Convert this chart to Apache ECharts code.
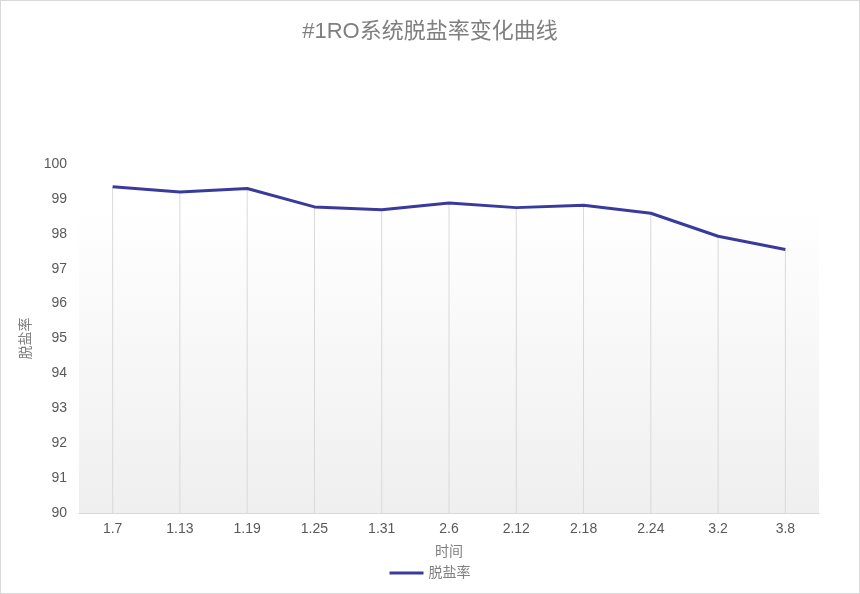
<!DOCTYPE html>
<html><head><meta charset="utf-8">
<script src="https://cdn.jsdelivr.net/npm/echarts@6/dist/echarts.min.js"></script>
<style>html,body{margin:0;padding:0;background:#fff}#c{width:860px;height:594px;box-sizing:border-box;border:1px solid #d9d9d9}</style>
</head><body><div id="c"></div>
<script>
const categories = ['1.7','1.13','1.19','1.25','1.31','2.6','2.12','2.18','2.24','3.2','3.8'];
const saltRejection = [99.35, 99.2, 99.3, 98.77, 98.69, 98.88, 98.75, 98.82, 98.59, 97.93, 97.55];
const yTicks = {min: 90, max: 100, interval: 1};

const chart = echarts.init(document.getElementById('c'));
const font = '"Liberation Sans", "Noto Sans CJK SC", sans-serif';
chart.setOption({
  animation: false,
  title: {text: '#1RO系统脱盐率变化曲线', left: 'center', top: 15,
    textStyle: {fontSize: 22, fontWeight: 'normal', color: '#7f7f7f', fontFamily: font}},
  grid: {left: 78, right: 40, top: 163, bottom: 80,
    show: true, borderWidth: 0,
    backgroundColor: new echarts.graphic.LinearGradient(0, 0, 0, 1, [
      {offset: 0, color: '#ffffff'}, {offset: 0.12, color: '#ffffff'}, {offset: 1, color: '#efefef'}])},
  legend: {bottom: 8, left: 'center', icon: 'rect', itemWidth: 34, itemHeight: 3,
    itemGap: 4, data: ['脱盐率'],
    textStyle: {fontSize: 14, color: '#7f7f7f', fontFamily: font}},
  xAxis: {type: 'category', data: categories, boundaryGap: true,
    name: '时间', nameLocation: 'middle', nameGap: 32,
    nameTextStyle: {fontSize: 14, color: '#7f7f7f', fontFamily: font},
    axisLine: {lineStyle: {color: '#d9d9d9', width: 1}},
    axisTick: {show: false},
    axisLabel: {fontSize: 14, color: '#595959', margin: 9, fontFamily: font},
    splitLine: {show: false}},
  yAxis: {type: 'value', min: yTicks.min, max: yTicks.max, interval: yTicks.interval,
    name: '脱盐率', nameLocation: 'middle', nameGap: 45,
    nameTextStyle: {fontSize: 14, color: '#7f7f7f', fontFamily: font},
    axisLine: {show: false}, axisTick: {show: false},
    axisLabel: {fontSize: 14, color: '#595959', margin: 12, fontFamily: font},
    splitLine: {show: false}},
  series: [
    {name: 'drop', type: 'bar', data: saltRejection, barWidth: 1, silent: true,
     itemStyle: {color: '#d9d9d9'}, z: 1, legendHoverLink: false},
    {name: '脱盐率', type: 'line', data: saltRejection, symbol: 'none', smooth: false,
     lineStyle: {color: '#3a3a9c', width: 3}, itemStyle: {color: '#3a3a9c'}, z: 3}
  ]
});
</script></body></html>
